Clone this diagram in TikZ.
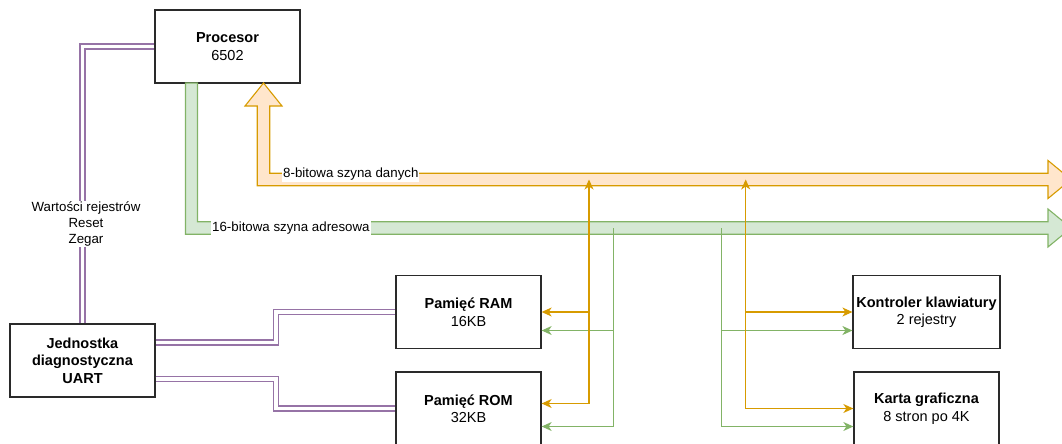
\documentclass[tikz,border=0pt]{standalone}
\usepackage{fontspec}
\setmainfont{Liberation Sans}
\usetikzlibrary{arrows.meta}
\definecolor{zolty}{HTML}{D79B00}
\definecolor{zoltyjasny}{HTML}{FFE6CC}
\definecolor{ziel}{HTML}{82B366}
\definecolor{zieljasny}{HTML}{D5E8D4}
\definecolor{fiolet}{HTML}{9673A6}
\definecolor{ramka}{HTML}{2A2A2A}
\tikzset{
    blok/.style={draw=ramka, line width=1.3pt, fill=white, minimum width=145pt, minimum height=73pt, align=center, font=\fontsize{14.5}{17.5}\selectfont},
    podpis/.style={fill=white, inner sep=1pt, align=center, font=\fontsize{13.3}{16}\selectfont},
    link/.style={draw=fiolet, line width=1.1pt, double=white, double distance=3.9pt},
    dane/.style={draw=zolty, line width=1.1pt},
    adres/.style={draw=ziel, line width=1.1pt},
}

\begin{document}
\begin{tikzpicture}[x=1pt, y=-1pt, >={Stealth[length=10pt, width=9pt, inset=3pt]}]
    \useasboundingbox (0,0) rectangle (1062,444);
    \clip (0,0) rectangle (1062,444);
    \node[blok] (proc) at (227.5,46.5) {\textbf{Procesor}\\6502};
    \node[blok] (jedn) at (82.5,360.5) {\textbf{Jednostka}\\\textbf{diagnostyczna}\\\textbf{UART}};
    \node[blok] (ram) at (468.5,312) {\textbf{Pamięć RAM}\\16KB};
    \node[blok] (rom) at (468.5,408.5) {\textbf{Pamięć ROM}\\32KB};
    \node[blok] (klaw) at (926.5,312) {\textbf{Kontroler klawiatury}\\2 rejestry};
    \node[blok] (karta) at (926.5,408.5) {\textbf{Karta graficzna}\\8 stron po 4K};
    \filldraw[dane, fill=zoltyjasny, line join=miter] (263.5,83) -- (282,106) -- (269.75,106) -- (269.75,173.25) -- (1048,173.25) -- (1048,160.5) -- (1071,179.5) -- (1048,198.5) -- (1048,185.75) -- (257.25,185.75) -- (257.25,106) -- (245,106) -- cycle;
    \filldraw[adres, fill=zieljasny, line join=miter] (185.5,83) -- (197.5,83) -- (197.5,221.75) -- (1048,221.75) -- (1048,209) -- (1071,228) -- (1048,247) -- (1048,234.25) -- (185.5,234.25) -- cycle;
    \node[podpis, anchor=west] (ldane) at (282,174.5) {8-bitowa szyna danych};
    \node[podpis, anchor=west, minimum height=14pt] (ladres) at (211,228.5) {16-bitowa szyna adresowa};
    \coordinate (d1) at (589,179.5);
    \coordinate (d2) at (745.7,179.5);
    \coordinate (a1) at (613.3,228);
    \coordinate (a2) at (721.7,228);
    \draw[link] (proc.west) -| (jedn.north);
    \node[podpis] (lsygnaly) at (86,224) {Wartości rejestrów\\Reset\\Zegar};
    \draw[link] ([yshift=18pt]jedn.east) -- ++(120.5,0) |- (ram.west);
    \draw[link] ([yshift=-18.5pt]jedn.east) -- ++(120.5,0) |- (rom.west);
    \draw[adres, ->] (a1) |- ([yshift=-18pt]rom.east);
    \draw[adres, ->] ([yshift=-18.5pt]ram.east -| a1) -- ([yshift=-18.5pt]ram.east);
    \draw[adres, ->] (a2) |- ([yshift=-18pt]karta.west);
    \draw[adres, ->] ([yshift=-18.5pt]klaw.west -| a2) -- ([yshift=-18.5pt]klaw.west);
    \draw[dane, <->] (d1) |- ([yshift=5pt]rom.east);
    \draw[dane, ->] (ram.east -| d1) -- (ram.east);
    \draw[dane, <->] (d2) |- (karta.west);
    \draw[dane, ->] (klaw.west -| d2) -- (klaw.west);
\end{tikzpicture}
\end{document}
